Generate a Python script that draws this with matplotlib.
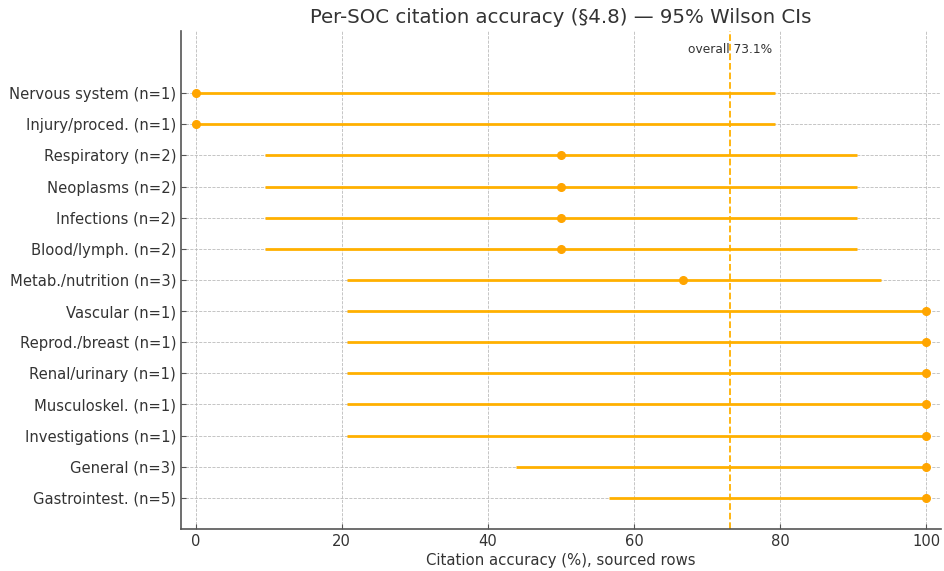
import matplotlib
matplotlib.use("Agg")
import matplotlib.pyplot as plt
import numpy as np

categories = ["Gastrointest. (n=5)", "General (n=3)", "Investigations (n=1)", "Musculoskel. (n=1)",
              "Renal/urinary (n=1)", "Reprod./breast (n=1)", "Vascular (n=1)", "Metab./nutrition (n=3)",
              "Blood/lymph. (n=2)", "Infections (n=2)", "Neoplasms (n=2)", "Respiratory (n=2)",
              "Injury/proced. (n=1)", "Nervous system (n=1)"]
accuracy = [100.0, 100.0, 100.0, 100.0, 100.0, 100.0, 100.0, 66.7, 50.0, 50.0, 50.0, 50.0, 0.0, 0.0]
ci_low = [56.55, 43.85, 20.65, 20.65, 20.65, 20.65, 20.65, 20.77, 9.45, 9.45, 9.45, 9.45, 0.0, 0.0]
ci_high = [100.0, 100.0, 100.0, 100.0, 100.0, 100.0, 100.0, 93.85, 90.55, 90.55, 90.55, 90.55, 79.35, 79.35]
overall = 73.1

txt = "#333333"
plt.rcParams["text.color"] = txt
plt.rcParams["axes.labelcolor"] = txt
plt.rcParams["xtick.color"] = txt
plt.rcParams["ytick.color"] = txt

fig = plt.figure(figsize=(9.45, 5.71), dpi=100)
ax = fig.add_axes([0.1915, 0.0736, 0.8043, 0.8721])

y = np.arange(len(categories))
acc = np.array(accuracy)
ax.hlines(y, ci_low, ci_high, color="#FFB000", lw=2, zorder=3)
ax.plot(acc, y, "o", color="#FFA500", ms=5.5, zorder=4)

ax.axvline(overall, color="#FFB000", ls="--", lw=1.3, zorder=2)
ax.text(overall, len(categories) + 0.4, f"overall {overall}%", ha="center", va="center", fontsize=8.8, color=txt)

ax.set_yticks(y)
ax.set_yticklabels(categories, fontsize=10.6)
ax.set_xticks([0, 20, 40, 60, 80, 100])
ax.tick_params(axis="x", labelsize=10.6)
ax.tick_params(axis="both", direction="in", length=3.5, color="#555555")
ax.set_xlim(-2, 102)
ax.set_ylim(-1, len(categories) + 1)
ax.set_xlabel("Citation accuracy (%), sourced rows", fontsize=10.7, labelpad=3)
ax.set_title("Per-SOC citation accuracy (§4.8) — 95% Wilson CIs", fontsize=14.2, color=txt)
ax.grid(True, ls="--", lw=0.6, color="#bbbbbb", zorder=0)
ax.set_axisbelow(True)
for s in ["top", "right"]:
    ax.spines[s].set_visible(False)
for s in ["left", "bottom"]:
    ax.spines[s].set_color("#555555")
    ax.spines[s].set_linewidth(1.2)

fig.savefig("out.png", dpi=100)
